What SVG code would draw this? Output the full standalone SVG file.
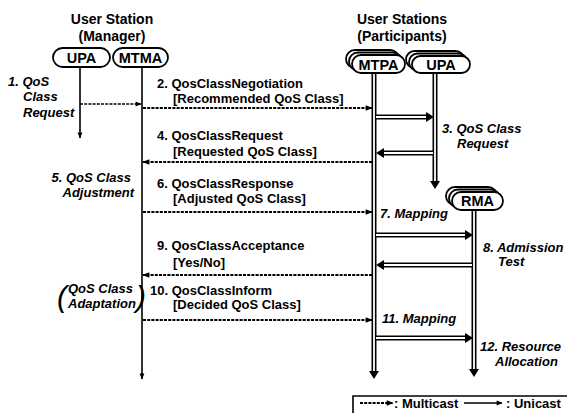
<svg xmlns="http://www.w3.org/2000/svg" width="567" height="413" viewBox="0 0 567 413">
<style>
text{font-family:"Liberation Sans",Arial,sans-serif;fill:#000}
.t{font-size:14px;font-weight:bold;text-anchor:middle}
.m{font-size:13px;font-weight:bold}
.i{font-size:13px;font-weight:bold;font-style:italic}
.p{font-size:14.5px;font-weight:bold;text-anchor:middle}
.pill{fill:#fff;stroke:#000;stroke-width:1.8}
.life{stroke:#000;stroke-width:1.6;fill:none}
.mc{stroke:#000;stroke-width:2;stroke-dasharray:3 1.2;fill:none}
.hb{stroke:#000;stroke-width:5;fill:none}
.hw{stroke:#fff;stroke-width:1.8;fill:none}
.ah{fill:#000}
</style>
<defs>
<marker id="mk" viewBox="0 0 10 10" refX="9" refY="5" markerWidth="8" markerHeight="7" markerUnits="userSpaceOnUse" orient="auto"><path d="M0,1 L10,5 L0,9 z"/></marker>
<marker id="uk" viewBox="0 0 10 10" refX="9" refY="5" markerWidth="7" markerHeight="6" markerUnits="userSpaceOnUse" orient="auto"><path d="M0,1 L10,5 L0,9 z"/></marker>
</defs>

<g id="titles">
<text class="t" x="112" y="24">User Station</text>
<text class="t" x="112" y="41">(Manager)</text>
<text class="t" x="402" y="24">User Stations</text>
<text class="t" x="402" y="41">(Participants)</text>
</g>

<g id="connectors">
<line class="life" x1="80" y1="67" x2="80" y2="138" marker-end="url(#uk)"/>
<line class="life" x1="142" y1="67" x2="142" y2="379" marker-end="url(#uk)"/>
<line x1="80" y1="104" x2="141" y2="104" stroke="#000" stroke-width="1.6" stroke-dasharray="3 1.2" marker-end="url(#uk)"/>
<line class="mc" x1="143" y1="108" x2="372" y2="108" marker-end="url(#mk)"/>
<line class="mc" x1="372" y1="162" x2="143" y2="162" marker-end="url(#mk)"/>
<line class="mc" x1="143" y1="212" x2="372" y2="212" marker-end="url(#mk)"/>
<line class="mc" x1="372" y1="275" x2="143" y2="275" marker-end="url(#mk)"/>
<line class="mc" x1="143" y1="320" x2="372" y2="320" marker-end="url(#mk)"/>
<path class="hb" d="M374,73 V372 M435,73 V182 M474,210 V370 M374,117 H428 M435,153 H382 M374,235 H466 M474,265 H382 M374,338 H466"/>
<path class="hw" d="M374,74 V371 M435,74 V181 M474,211 V369 M376,117 H427 M433,153 H383 M376,235 H465 M472,265 H383 M376,338 H465"/>
<polygon class="ah" points="369,371 379,371 374,379"/>
<polygon class="ah" points="430,181 440,181 435,189"/>
<polygon class="ah" points="469,369 479,369 474,377"/>
<polygon class="ah" points="426,112 426,122 434,117"/>
<polygon class="ah" points="384,148 384,158 376,153"/>
<polygon class="ah" points="465,230 465,240 473,235"/>
<polygon class="ah" points="384,260 384,270 376,265"/>
<polygon class="ah" points="465,333 465,343 473,338"/>
</g>

<g id="node-upa-manager">
<rect class="pill" x="53" y="48" width="57" height="19" rx="9.5"/>
<text class="p" x="81.5" y="63">UPA</text>
</g>
<g id="node-mtma">
<rect class="pill" x="113" y="48" width="55" height="19" rx="9.5"/>
<text class="p" x="140.5" y="63">MTMA</text>
</g>
<g id="node-mtpa">
<rect class="pill" x="346" y="50" width="53" height="18" rx="9"/>
<rect class="pill" x="349" y="52.5" width="53" height="18" rx="9"/>
<rect class="pill" x="352" y="55" width="53" height="18" rx="9"/>
<text class="p" x="378.5" y="69.5">MTPA</text>
</g>
<g id="node-upa-participants">
<rect class="pill" x="406" y="51" width="58" height="17" rx="8.5"/>
<rect class="pill" x="409" y="53.5" width="58" height="17" rx="8.5"/>
<rect class="pill" x="412" y="56" width="58" height="17" rx="8.5"/>
<text class="p" x="441" y="70">UPA</text>
</g>
<g id="node-rma">
<rect class="pill" x="446" y="187" width="51" height="18" rx="9"/>
<rect class="pill" x="449" y="189.5" width="51" height="18" rx="9"/>
<rect class="pill" x="452" y="192" width="51" height="18" rx="9"/>
<text class="p" x="477.5" y="206">RMA</text>
</g>

<g id="labels">
<text class="i" x="8" y="86">1. QoS</text>
<text class="i" x="23" y="101">Class</text>
<text class="i" x="23" y="117">Request</text>
<text class="m" x="157" y="88">2. QosClassNegotiation</text>
<text class="m" x="173" y="103">[Recommended QoS Class]</text>
<text class="i" x="442" y="133">3. QoS Class</text>
<text class="i" x="457" y="148">Request</text>
<text class="m" x="157" y="140">4. QosClassRequest</text>
<text class="m" x="173" y="156">[Requested QoS Class]</text>
<text class="i" x="131" y="182" text-anchor="end">5. QoS Class</text>
<text class="i" x="134" y="197" text-anchor="end">Adjustment</text>
<text class="m" x="157" y="188">6. QosClassResponse</text>
<text class="m" x="173" y="203">[Adjusted QoS Class]</text>
<text class="i" x="380" y="218">7. Mapping</text>
<text class="i" x="483" y="252">8. Admission</text>
<text class="i" x="498" y="266">Test</text>
<text class="m" x="157" y="250">9. QosClassAcceptance</text>
<text class="m" x="173" y="267">[Yes/No]</text>
<text x="57" y="307" style="font-size:30px;font-style:italic">(</text>
<text class="i" x="68" y="293">QoS Class</text>
<text class="i" x="68" y="308">Adaptation</text>
<text x="136" y="307" style="font-size:30px;font-style:italic">)</text>
<text class="m" x="150" y="295">10. QosClassInform</text>
<text class="m" x="173" y="309">[Decided QoS Class]</text>
<text class="i" x="382" y="323">11. Mapping</text>
<text class="i" x="480" y="351">12. Resource</text>
<text class="i" x="495" y="366">Allocation</text>
</g>

<g id="legend">
<path d="M353,413 V396 H567" stroke="#000" stroke-width="1.6" fill="none"/>
<line class="mc" x1="360" y1="403" x2="393" y2="403" marker-end="url(#mk)"/>
<text class="m" x="394" y="408">: Multicast</text>
<line class="life" x1="464" y1="403" x2="502" y2="403" marker-end="url(#uk)"/>
<text class="m" x="506" y="408">: Unicast</text>
</g>
</svg>
